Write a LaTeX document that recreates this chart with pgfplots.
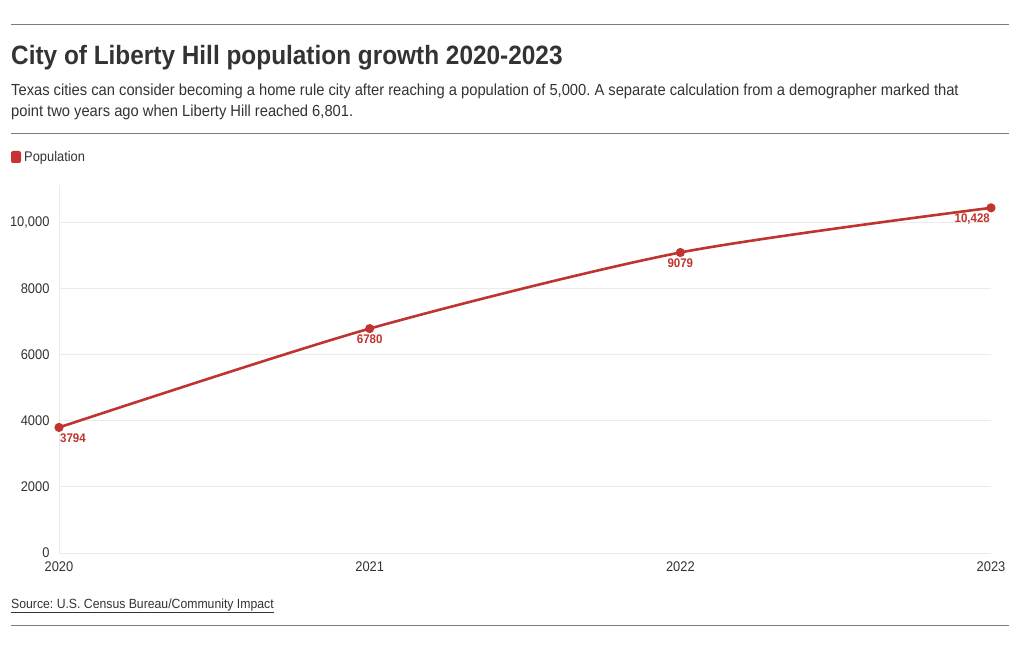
\documentclass[border=0pt]{standalone}
\usepackage{fontspec}
\setmainfont{Liberation Sans}[FakeStretch=0.92]
\usepackage{pgfplots}
\pgfplotsset{compat=1.18}
\definecolor{linered}{RGB}{190,52,46}
\definecolor{legred}{RGB}{200,50,48}
\definecolor{txt}{RGB}{51,51,51}
\definecolor{gridc}{RGB}{235,235,235}
\definecolor{rulec}{RGB}{125,125,125}
\frenchspacing
\begin{document}
\begin{tikzpicture}
\begin{scope}[x=1bp,y=-1bp]
\path[use as bounding box] (0,0) rectangle (1020,650);
\draw[rulec, line width=1bp] (11,25) -- (1009,25);
\draw[rulec, line width=1bp] (11,134) -- (1009,134);
\draw[rulec, line width=1bp] (11,625) -- (1009,625);
\node[anchor=base west, inner sep=0pt, text=txt, font=\fontsize{26.5bp}{30bp}\selectfont\bfseries] at (11,65) {City of Liberty Hill population growth 2020-2023};
\node[anchor=base west, inner sep=0pt, text=txt, font=\fontsize{16bp}{19bp}\selectfont] at (11,96) {Texas cities can consider becoming a home rule city after reaching a population of 5,000. A separate calculation from a demographer marked that};
\node[anchor=base west, inner sep=0pt, text=txt, font=\fontsize{16bp}{19bp}\selectfont] at (11,117) {point two years ago when Liberty Hill reached 6,801.};
\fill[legred, rounded corners=2bp] (11,151) rectangle (21,163);
\node[anchor=base west, inner sep=0pt, text=txt, font=\fontsize{14bp}{16bp}\selectfont] at (24,162) {Population};
\node[anchor=base west, inner sep=0pt, text=txt, font=\fontsize{13.3bp}{16bp}\selectfont] at (11,608) {\underline{Source: U.S. Census Bureau/Community Impact}};
\end{scope}
\begin{axis}[
  at={(59bp,-553bp)}, anchor=south west,
  scale only axis, width=932bp, height=368bp,
  xmin=2020, xmax=2023, ymin=0, ymax=11118,
  clip=false,
  axis lines=left,
  axis line style={gridc, line width=1bp, -},
  major tick length=0pt,
  ymajorgrids,
  grid style={gridc, line width=1bp},
  scaled y ticks=false, scaled x ticks=false,
  ytick={0,2000,4000,6000,8000,10000},
  yticklabels={0,2000,4000,6000,8000,{10,000}},
  xtick={2020,2021,2022,2023},
  xticklabels={2020,2021,2022,2023},
  /pgf/number format/assume math mode=true,
  tick label style={text=txt, font=\fontsize{14bp}{16bp}\selectfont},
  yticklabel style={anchor=east, xshift=-6bp},
  xticklabel style={anchor=north, yshift=-5bp},
]
\addplot[linered, line width=2.6bp, smooth, tension=0.45, mark=*, mark size=3.2bp, mark options={fill=linered, draw=linered}]
 coordinates {(2020,3794) (2021,6780) (2022,9079) (2023,10428)};
\node[anchor=north west, inner sep=1pt, text=linered, font=\fontsize{12.5bp}{14bp}\selectfont\bfseries, yshift=-5bp] at (axis cs:2020,3794) {3794};
\node[anchor=north, inner sep=1pt, text=linered, font=\fontsize{12.5bp}{14bp}\selectfont\bfseries, yshift=-5bp] at (axis cs:2021,6780) {6780};
\node[anchor=north, inner sep=1pt, text=linered, font=\fontsize{12.5bp}{14bp}\selectfont\bfseries, yshift=-5bp] at (axis cs:2022,9079) {9079};
\node[anchor=north east, inner sep=1pt, text=linered, font=\fontsize{12.5bp}{14bp}\selectfont\bfseries, yshift=-5bp] at (axis cs:2023,10428) {10,428};
\end{axis}
\end{tikzpicture}
\end{document}
